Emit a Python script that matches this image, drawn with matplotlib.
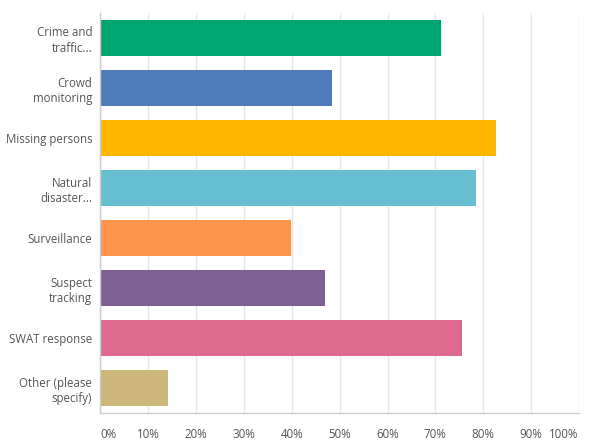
import matplotlib
matplotlib.use('Agg')
import matplotlib.pyplot as plt
from matplotlib.ticker import FuncFormatter

plt.rcParams['font.family'] = ['Open Sans', 'DejaVu Sans']

# 数据
categories = ['Crime and\ntraffic...', 'Crowd\nmonitoring', 'Missing persons',
              'Natural\ndisaster...', 'Surveillance', 'Suspect\ntracking',
              'SWAT response', 'Other (please\nspecify)']
values = [71.2, 48.4, 82.7, 78.6, 39.9, 47.0, 75.6, 14.1]
colors = ['#00A66F', '#4E7BBB', '#FFB700', '#66BFD0', '#FF954B',
          '#7E6192', '#DE6B8F', '#CDB77A']
xticks = [0, 10, 20, 30, 40, 50, 60, 70, 80, 90, 100]

fig = plt.figure(figsize=(5.98, 4.48), dpi=100)
ax = fig.add_axes([0.168, 0.078, 0.8, 0.893])

ypos = list(range(len(categories)))
ax.barh(ypos, values, height=0.72, color=colors, zorder=2)

ax.set_xlim(0, 100)
ax.set_ylim(len(categories) - 0.5, -0.5)
ax.set_yticks(ypos)
ax.set_yticklabels(categories, fontsize=8.3, color='#555555', linespacing=1.25)
ax.set_xticks(xticks)
ax.xaxis.set_major_formatter(FuncFormatter(lambda v, p: f'{int(v)}%'))
ax.tick_params(axis='x', labelsize=8.3, labelcolor='#555555', length=0, pad=11)
ax.tick_params(axis='y', length=0, pad=6)

# 两端刻度标签贴边对齐
xlabels = ax.get_xticklabels()
xlabels[0].set_ha('left')
xlabels[-1].set_ha('right')

ax.grid(axis='x', color='#e6e6e6', linewidth=1, zorder=0)
for s in ['top', 'right']:
    ax.spines[s].set_visible(False)
for s in ['left', 'bottom']:
    ax.spines[s].set_color('#cccccc')
    ax.spines[s].set_linewidth(1)

plt.savefig('out.png', dpi=100)
plt.close()
